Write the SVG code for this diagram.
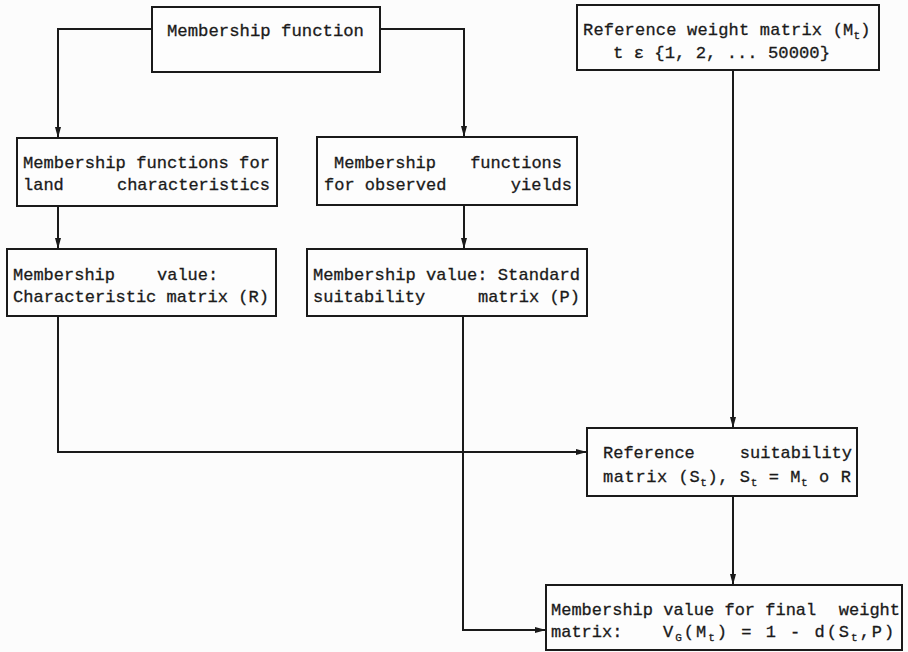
<svg xmlns="http://www.w3.org/2000/svg" width="908" height="652" viewBox="0 0 908 652">
<defs>
<marker id="ah" markerUnits="userSpaceOnUse" markerWidth="12" markerHeight="8" refX="11" refY="4" orient="auto">
<path d="M0,1 L11,4 L0,7 z" fill="#1a1a1a"/>
</marker>
<style>
.box{fill:#fdfdfd;stroke:#1a1a1a;stroke-width:2}
.t{font-family:"Liberation Mono","DejaVu Sans Mono",monospace;font-size:17px;fill:#1a1a1a;stroke:#1a1a1a;stroke-width:0.3}
.e{text-anchor:end}
.s{font-size:11px}
.c{fill:none;stroke:#1a1a1a;stroke-width:2;marker-end:url(#ah)}
</style>
</defs>
<rect width="908" height="652" fill="#fcfcfc"/>
<g id="connectors">
<path class="c" d="M152,29 H58 V138"/>
<path class="c" d="M380,29 H464 V137"/>
<path class="c" d="M58,206 V249"/>
<path class="c" d="M464,205 V249"/>
<path class="c" d="M733,70 V428"/>
<path class="c" d="M58,316 V452 H587"/>
<path class="c" d="M463,316 V630 H546"/>
<path class="c" d="M733,496 V585"/>
</g>
<g id="n1">
<rect class="box" x="152" y="7" width="228" height="65"/>
<text class="t" x="167" y="36" textLength="197" lengthAdjust="spacingAndGlyphs">Membership function</text>
</g>
<g id="n2">
<rect class="box" x="577" y="5" width="302" height="65"/>
<text class="t" x="583" y="35" letter-spacing="0.2">Reference weight matrix (M<tspan class="s" dy="4">t</tspan><tspan dy="-4">)</tspan></text>
<text class="t" x="613" y="58" textLength="217" lengthAdjust="spacingAndGlyphs">t ε {1, 2, ... 50000}</text>
</g>
<g id="n3">
<rect class="box" x="17" y="138" width="260" height="68"/>
<text class="t" x="23" y="168" textLength="247" lengthAdjust="spacingAndGlyphs">Membership functions for</text>
<text class="t" x="23" y="190">land</text>
<text class="t e" x="270" y="190">characteristics</text>
</g>
<g id="n4">
<rect class="box" x="317" y="137" width="260" height="68"/>
<text class="t" x="334" y="168">Membership</text>
<text class="t e" x="562" y="168">functions</text>
<text class="t" x="324" y="190">for observed</text>
<text class="t e" x="572" y="190">yields</text>
</g>
<g id="n5">
<rect class="box" x="7" y="249" width="269" height="67"/>
<text class="t" x="13" y="280">Membership</text>
<text class="t" x="157" y="280">value:</text>
<text class="t" x="13" y="302" textLength="256" lengthAdjust="spacingAndGlyphs">Characteristic matrix (R)</text>
</g>
<g id="n6">
<rect class="box" x="307" y="249" width="280" height="67"/>
<text class="t" x="313" y="280" textLength="267" lengthAdjust="spacingAndGlyphs">Membership value: Standard</text>
<text class="t" x="313" y="302">suitability</text>
<text class="t e" x="580" y="302">matrix (P)</text>
</g>
<g id="n7">
<rect class="box" x="587" y="428" width="270" height="68"/>
<text class="t" x="603" y="458">Reference</text>
<text class="t e" x="852" y="458">suitability</text>
<text class="t" x="603" y="482" letter-spacing="0.6">matrix (S<tspan class="s" dy="4">t</tspan><tspan dy="-4">), S</tspan><tspan class="s" dy="4">t</tspan><tspan dy="-4"> = M</tspan><tspan class="s" dy="4">t</tspan><tspan dy="-4"> o R</tspan></text>
</g>
<g id="n8">
<rect class="box" x="546" y="585" width="356" height="65"/>
<text class="t" x="551" y="615">Membership value for final</text>
<text class="t e" x="900" y="615">weight</text>
<text class="t" x="551" y="637">matrix:</text>
<text class="t" x="663" y="637" letter-spacing="2">V<tspan class="s" dy="4">G</tspan><tspan dy="-4">(M</tspan><tspan class="s" dy="4">t</tspan><tspan dy="-4">) = 1 - d(S</tspan><tspan class="s" dy="4">t</tspan><tspan dy="-4">,P)</tspan></text>
</g>
</svg>
